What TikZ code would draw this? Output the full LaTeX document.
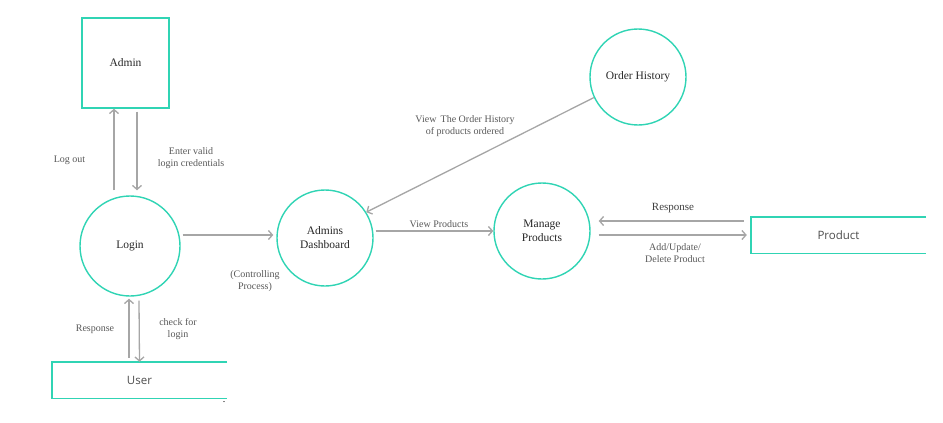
\documentclass[tikz,border=0pt]{standalone}
\usepackage{fontspec}
\setmainfont{Liberation Serif}
\newfontfamily\boxfont{Open Sans}
\usetikzlibrary{arrows.meta}
\definecolor{dfdteal}{RGB}{48,212,180}
\definecolor{dfdgray}{RGB}{166,166,166}
\definecolor{dfdtext}{RGB}{88,88,88}

\begin{document}
\begin{tikzpicture}[x=1pt, y=-1pt, every node/.style={font=\fontsize{11.5}{14}\selectfont, text=black!85}, process/.style={draw=dfdteal, line width=1.4pt, circle, minimum size=96pt, inner sep=0pt, align=center}, entity/.style={draw=dfdteal, line width=1.4pt, minimum width=87pt, minimum height=90pt}, store/.style={minimum width=175pt, minimum height=36pt, font=\boxfont\fontsize{11.5}{14}\selectfont, text=black!70}, storeline/.style={draw=dfdteal, line width=1.4pt}, flow/.style={draw=dfdgray, line width=1.3pt, -{Straight Barb[length=4pt,width=9pt]}}, flowlabel/.style={font=\fontsize{10}{12}\selectfont, text=dfdtext, align=center}]
    \useasboundingbox (0,0) rectangle (943,423);

    \node[entity] (admin) at (125.5,63) {Admin};
    \node[process, minimum size=100pt] (login) at (130,246) {Login};
    \node[process] (dash) at (325,238) {Admins\\Dashboard};
    \node[process] (manage) at (542,231) {Manage\\Products};
    \node[process] (order) at (638,77) {Order History};
    \node[store] (user) at (139.5,380) {User};
    \node[store] (product) at (838.5,235) {Product};

    \foreach \s in {user,product} {
        \draw[storeline] (\s.north east) -- (\s.north west) -- (\s.south west) -- (\s.south east);
    }

    \draw[flow] ([xshift=-16pt,yshift=5pt]login.north) -- ([xshift=-11.5pt]admin.south);
    \draw[flow] ([xshift=11.5pt,yshift=-3pt]admin.south) -- ([xshift=7pt,yshift=5pt]login.north);
    \draw[flow] ([xshift=2pt,yshift=11pt]login.east) -- ([xshift=-3pt,yshift=3pt]dash.west);
    \draw[flow] ([xshift=-10.5pt,yshift=4pt]user.north) -- ([xshift=-1pt,yshift=-2pt]login.south);
    \draw[flow] ([xshift=9pt,yshift=-4pt]login.south) -- (user.north);
    \draw[flow] (order.205) -- (dash.32);
    \draw[flow] ([xshift=2pt,yshift=7pt]dash.east) -- (manage.west);
    \draw[flow] ([xshift=-7pt,yshift=14pt]product.west) -- ([xshift=8pt,yshift=10pt]manage.east);
    \draw[flow] ([xshift=8pt,yshift=-4pt]manage.east) -- ([xshift=-4pt]product.west);

    \node[flowlabel] (logout) at (69.5,160) {Log out};
    \node[flowlabel] (enter) at (191,158) {Enter valid\\login credentials};
    \node[flowlabel] (ctrl) at (255,281) {(Controlling\\Process)};
    \node[flowlabel] (resp1) at (95,329) {Response};
    \node[flowlabel] (check) at (178,329) {check for\\login};
    \node[flowlabel] (viewhist) at (465,126) {View\, The Order History\\of products ordered};
    \node[flowlabel] (viewprod) at (439,224) {View Products};
    \node[flowlabel, font=\fontsize{11}{13}\selectfont, text=black!75] (resp2) at (673,208) {Response};
    \node[flowlabel] (addupd) at (675,253.5) {Add/Update/\\Delete Product};
    \node[flowlabel, text=black] (dot) at (224,402) {.};
\end{tikzpicture}
\end{document}
